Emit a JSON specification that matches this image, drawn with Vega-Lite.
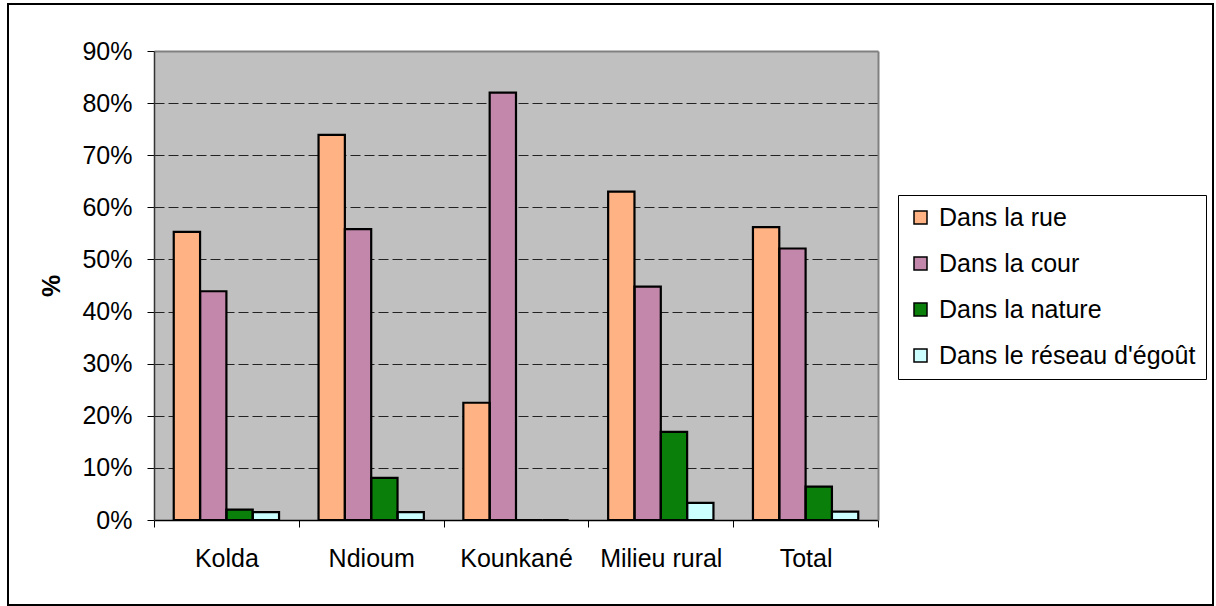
{
  "$schema": "https://vega.github.io/schema/vega-lite/v6.json",
  "width": 1205,
  "height": 601,
  "autosize": {"type": "none"},
  "padding": {"left": 8, "top": 4, "right": 3, "bottom": 1},
  "background": "#ffffff",
  "config": {
    "font": "Liberation Sans",
    "view": {"stroke": "#000000", "strokeWidth": 2, "fill": null},
    "axis": {"labelColor": "#000000", "titleColor": "#000000", "labelFont": "Liberation Sans", "titleFont": "Liberation Sans"},
    "legend": {
      "labelFont": "Liberation Sans",
      "labelFontSize": 25,
      "labelColor": "#000000",
      "labelOffset": 6,
      "labelLimit": 0,
      "symbolType": "square",
      "symbolSize": 169,
      "symbolStrokeColor": "#000000",
      "symbolStrokeWidth": 1.5,
      "symbolOpacity": 1,
      "strokeColor": "#000000",
      "strokeWidth": 1,
      "padding": 10,
      "rowPadding": 20
    }
  },
  "data": {
    "values": [
      {"lieu": "Kolda", "mode": "Dans la rue", "valeur": 0.553},
      {"lieu": "Kolda", "mode": "Dans la cour", "valeur": 0.439},
      {"lieu": "Kolda", "mode": "Dans la nature", "valeur": 0.020},
      {"lieu": "Kolda", "mode": "Dans le réseau d'égoût", "valeur": 0.015},
      {"lieu": "Ndioum", "mode": "Dans la rue", "valeur": 0.739},
      {"lieu": "Ndioum", "mode": "Dans la cour", "valeur": 0.558},
      {"lieu": "Ndioum", "mode": "Dans la nature", "valeur": 0.081},
      {"lieu": "Ndioum", "mode": "Dans le réseau d'égoût", "valeur": 0.015},
      {"lieu": "Kounkané", "mode": "Dans la rue", "valeur": 0.225},
      {"lieu": "Kounkané", "mode": "Dans la cour", "valeur": 0.820},
      {"lieu": "Kounkané", "mode": "Dans la nature", "valeur": 0},
      {"lieu": "Kounkané", "mode": "Dans le réseau d'égoût", "valeur": 0},
      {"lieu": "Milieu rural", "mode": "Dans la rue", "valeur": 0.630},
      {"lieu": "Milieu rural", "mode": "Dans la cour", "valeur": 0.448},
      {"lieu": "Milieu rural", "mode": "Dans la nature", "valeur": 0.169},
      {"lieu": "Milieu rural", "mode": "Dans le réseau d'égoût", "valeur": 0.033},
      {"lieu": "Total", "mode": "Dans la rue", "valeur": 0.562},
      {"lieu": "Total", "mode": "Dans la cour", "valeur": 0.521},
      {"lieu": "Total", "mode": "Dans la nature", "valeur": 0.064},
      {"lieu": "Total", "mode": "Dans le réseau d'égoût", "valeur": 0.016}
    ]
  },
  "layer": [
    {
      "mark": {"type": "bar"},
      "encoding": {
        "x": {
          "field": "lieu", "type": "nominal",
          "sort": ["Kolda", "Ndioum", "Kounkané", "Milieu rural", "Total"],
          "scale": {"range": [146, 870], "paddingInner": 0, "paddingOuter": 0},
          "axis": {"orient": "top", "offset": 0, "title": null, "domain": false, "ticks": false, "labels": false,
                   "grid": true, "gridColor": "#c0c0c0", "gridWidth": 145, "gridOpacity": 1}
        },
        "xOffset": {
          "field": "mode", "type": "nominal",
          "sort": ["Dans la rue", "Dans la cour", "Dans la nature", "Dans le réseau d'égoût"],
          "scale": {"paddingInner": 0, "paddingOuter": 0.75}
        },
        "y": {
          "field": "valeur", "type": "quantitative",
          "scale": {"domain": [0, 0.9], "range": [516, 47], "nice": false, "zero": true},
          "axis": {
            "orient": "left", "offset": -146,
            "values": [0, 0.1, 0.2, 0.3, 0.4, 0.5, 0.6, 0.7, 0.8, 0.9],
            "format": ".0%",
            "title": "%", "titleFontSize": 25, "titleFontWeight": "bold", "titlePadding": 17,
            "labelFontSize": 25, "labelPadding": 15,
            "ticks": true, "tickSize": 7, "tickColor": "#000000", "tickWidth": 1,
            "domain": true, "domainColor": "#333333", "domainWidth": 1.5,
            "grid": true,
            "gridColor": {"condition": {"test": "datum.value >= 0.9", "value": "#808080"}, "value": "#222222"},
            "gridDash": {"condition": {"test": "datum.value >= 0.9", "value": []}, "value": [10, 4]},
            "gridWidth": {"condition": {"test": "datum.value >= 0.9", "value": 2}, "value": 1},
            "gridOpacity": {"condition": {"test": "datum.value <= 0", "value": 0}, "value": 1}
          }
        },
        "color": {
          "field": "mode", "type": "nominal",
          "sort": ["Dans la rue", "Dans la cour", "Dans la nature", "Dans le réseau d'égoût"],
          "scale": {
            "domain": ["Dans la rue", "Dans la cour", "Dans la nature", "Dans le réseau d'égoût"],
            "range": ["#ffb283", "#c287ab", "#0a800a", "#ccffff"]
          },
          "legend": {"title": null, "orient": "none", "legendX": 890, "legendY": 191}
        }
      }
    },
    {
      "mark": {"type": "bar", "fillOpacity": 0, "stroke": "#000000", "strokeWidth": 2.2},
      "encoding": {
        "x": {
          "field": "lieu", "type": "nominal",
          "sort": ["Kolda", "Ndioum", "Kounkané", "Milieu rural", "Total"],
          "axis": {"orient": "bottom", "offset": -85, "title": null, "tickBand": "extent",
                   "domain": true, "domainColor": "#000000", "domainWidth": 1.5,
                   "ticks": true, "tickSize": 7, "tickColor": "#000000", "tickWidth": 1,
                   "labels": true, "labelFontSize": 25, "labelPadding": 19, "labelAngle": 0, "labelOverlap": false,
                   "grid": false}
        },
        "xOffset": {
          "field": "mode", "type": "nominal",
          "sort": ["Dans la rue", "Dans la cour", "Dans la nature", "Dans le réseau d'égoût"]
        },
        "y": {
          "field": "valeur", "type": "quantitative",
          "axis": {"orient": "left", "offset": -870, "title": null, "labels": false, "ticks": false, "grid": false,
                   "domain": true, "domainColor": "#808080", "domainWidth": 2}
        }
      }
    }
  ],
  "resolve": {"axis": {"x": "independent", "y": "independent"}}
}
